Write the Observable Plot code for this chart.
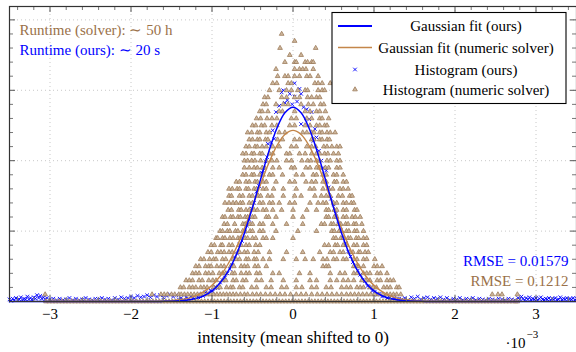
<!DOCTYPE html>
<html><head><meta charset="utf-8">
<script src="https://cdn.jsdelivr.net/npm/d3@7"></script>
<script src="https://cdn.jsdelivr.net/npm/@observablehq/plot@0.6"></script>
<style>
body{margin:0;background:#fff}
#wrap{position:relative;width:576px;height:352px;font-family:"Liberation Serif",serif}
#legend{position:absolute;left:0;top:0;pointer-events:none}
</style></head><body><div id="wrap"></div>
<script>
// ---- axis ticks (x in units of 1e-3, y = histogram count) ----
const xMajorTicks = [-3,-2,-1,0,1,2,3];
const xMinorTicks = [-3.4,-3.2,-2.8,-2.6,-2.4,-2.2,-1.8,-1.6,-1.4,-1.2,-0.8,-0.6,-0.4,-0.2,0.2,0.4,0.6,0.8,1.2,1.4,1.6,1.8,2.2,2.4,2.6,2.8,3.2,3.4];
const yMajorTicks = [10,20,30,40];
const yMinorTicks = [2,4,6,8,12,14,16,18,22,24,26,28,32,34,36,38];

// ---- Gaussian fits ----
const fitOursX = [-3.5,-1.8,-1.6,-1.5,-1.4,-1.3,-1.2,-1.1,-1.0,-0.9,-0.8,-0.7,-0.6,-0.5,-0.4,-0.3,-0.2,-0.1,0,0.1,0.2,0.3,0.4,0.5,0.6,0.7,0.8,0.9,1.0,1.1,1.2,1.3,1.4,1.5,1.6,1.8,3.5];
const fitOursY = [0,0.005,0.02,0.04,0.09,0.2,0.42,0.82,1.51,2.63,4.31,6.65,9.71,13.36,17.35,21.25,24.58,26.81,27.6,26.81,24.58,21.25,17.35,13.36,9.71,6.65,4.31,2.63,1.51,0.82,0.42,0.2,0.09,0.04,0.02,0.005,0];
const fitSolverX = [-3.05,-1.8,-1.6,-1.5,-1.4,-1.3,-1.2,-1.1,-1.0,-0.9,-0.8,-0.7,-0.6,-0.5,-0.4,-0.3,-0.2,-0.1,0,0.1,0.2,0.3,0.4,0.5,0.6,0.7,0.8,0.9,1.0,1.1,1.2,1.3,1.4,1.5,1.6,1.8,2.77];
const fitSolverY = [0,0.01,0.06,0.12,0.24,0.45,0.81,1.39,2.29,3.58,5.36,7.63,10.38,13.46,16.65,19.64,22.11,23.73,24.3,23.73,22.11,19.64,16.65,13.46,10.38,7.63,5.36,3.58,2.29,1.39,0.81,0.45,0.24,0.12,0.06,0.01,0];

// ---- Histogram (ours): [intensity in 1e-5, count] ----
const histOurs = [
[-350,0.3],[-348,0.1],[-346,0.4],[-344,0.2],[-342,0.5],[-340,0.2],[-338,0.3],[-336,0.6],[-334,0.2],[-332,0.4],[-330,0.3],[-328,0.7],[-326,0.3],[-324,0.5],[-322,0.2],[-320,0.6],[-318,0.4],[-316,0.9],[-314,0.5],[-312,0.8],[-310,0.4],[-308,0.6],[-306,0.3],[-304,0.5],
[-300,0.3],[-296,0.4],[-292,0.2],[-288,0.4],[-284,0.2],[-280,0.3],[-276,0.5],[-272,0.2],[-268,0.4],[-264,0.2],[-260,0.3],[-256,0.5],[-252,0.3],[-248,0.2],[-244,0.4],[-240,0.3],[-236,0.5],[-232,0.3],[-228,0.4],[-224,0.2],[-220,0.5],[-216,0.3],[-212,0.6],[-208,0.4],[-204,0.5],[-200,0.7],[-196,0.5],[-192,0.8],[-188,0.6],[-184,0.7],[-180,0.9],[-176,0.6],[-172,0.9],[-168,0.7],[-164,0.9],[-160,0.6],[-156,0.8],[-152,1.0],[-148,0.7],[-144,0.9],
[-141,0.3],[-138,0.5],[-135,0.2],[-132,0.6],[-129,0.4],[-126,0.7],[-123,0.5],[-120,0.9],[-117,0.6],[-114,1.0],[-111,0.8],[-108,1.3],[-105,1.1],[-102,1.6],[-99,1.4],[-96,2.1],[-93,1.9],[-90,2.7],[-87,3.0],[-84,3.4],[-81,4.0],[-78,4.6],[-75,5.2],[-72,6.3],[-69,6.8],[-66,8.1],[-63,8.6],[-60,9.9],[-57,10.8],[-54,11.6],[-51,13.2],[-48,14.0],[-45,15.6],[-42,16.4],[-39,18.3],[-37,18.6],[-34,19.9],[-32,20.5],[-31,22.4],[-27,22.6],[-25,24.3],[-23,23.1],[-21,26.9],[-17,27.8],[-14,29.7],[-12,30.0],[-10,28.2],[-7,28.6],[-4,29.5],[-1,28.0],[2,31.0],[2,29.1],[5,28.4],[8,30.2],[10,29.5],[10,25.2],[13,27.6],[17,27.3],[20,25.9],[23,26.9],[25,22.8],[27,24.5],[29,23.3],[32,21.4],[35,20.0],[37,19.0],[41,18.6],[44,16.2],[47,14.6],[50,13.8],[53,12.5],[56,11.0],[59,10.2],[62,9.0],[65,8.3],[68,7.1],[71,6.4],[74,5.6],[77,5.0],[80,4.4],[83,3.8],[86,3.1],[89,2.9],[92,2.2],[95,2.0],[98,1.5],[101,1.4],[104,1.0],[107,1.1],[110,0.7],[113,0.9],[116,0.5],[119,0.6],[122,0.4],[125,0.5],[128,0.3],[131,0.4],
[134,0.3],[138,0.5],[142,0.2],[146,0.6],[150,0.4],[154,0.7],[158,0.3],[162,0.5],[166,0.6],[170,0.3],[174,0.5],[178,0.4],[182,0.6],[186,0.3],[190,0.5],[194,0.2],[198,0.4],[202,0.3],[206,0.5],[210,0.2],[214,0.4],[218,0.3],[222,0.5],[226,0.2],[230,0.4],[234,0.3],[238,0.2],[242,0.4],[246,0.3],[250,0.2],[254,0.4],[258,0.3],[262,0.2],[266,0.4],[270,0.3],[274,0.2],
[278,0.5],[280,0.3],[282,0.7],[284,0.4],[286,0.2],[288,0.5],[290,0.3],[292,0.6],[294,0.2],[296,0.4],[298,0.3],[300,0.5],[302,0.2],[304,0.4],[306,0.6],[308,0.3],[310,0.2],[312,0.4],[314,0.3],[316,0.5],[318,0.2],[320,0.4],[322,0.3],[324,0.5],[326,0.2],[328,0.3],[330,0.6],[332,0.2],[334,0.4],[336,0.3],[338,0.5],[340,0.2],[342,0.4],[344,0.3],[346,0.5],[348,0.2],[350,0.4]
];

// ---- Histogram (numeric solver): row index = count, values = intensity in 1e-5 ----
const histSolver = [
/*0*/[-305,-301,-297,-293,-289,-285,-281,-277,-273,-269,-265,-261,-257,-253,-249,-245,-241,-237,-233,-229,-225,-221,-217,-213,-209,-205,-201,-197,-193,-189,-185,-181,-177,-173,-169,-165,-161,-157,-153,-149,-145,-141,-137,-133,-129,-125,-121,-117,-113,-109,-105,-101,-97,-93,-89,-85,-81,-77,-73,-69,-65,-61,-57,-53,-49,-45,-41,-37,-33,-29,-25,-21,-17,-13,-9,-5,-1,3,7,11,15,19,23,27,31,35,39,43,47,51,55,59,63,67,71,75,79,83,87,91,95,99,103,107,111,115,119,123,127,131,135,139,143,147,151,155,159,163,167,171,175,179,183,187,191,195,199,203,207,211,215,219,223,227,231,235,239,243,247,251,255,259,263,267,271,275,277],
/*1*/[-306,-174,-163,-159,-155,-150,-146,-141,-138,-134,-130,-126,-122,-118,-114,-110,-106,-102,-98,-94,-90,-86,-82,-78,-74,-70,-65,-60,-56,-50,-45,-40,-34,-28,-22,-16,-10,-3,4,10,16,23,30,36,42,48,54,60,66,71,76,81,86,91,96,101,106,111,116,120,124,128,133,246,253,258,277],
/*2*/[-139,-135,-128,-124,-120,-114,-110,-106,-98,-94,-90,-82,-77,-74,-66,-62,-51,-45,-33,-27,-14,-8,4,11,23,29,41,47,60,66,71,79,83,87,95,99,103,112,116,120,128,131],
/*3*/[-132,-128,-124,-116,-112,-104,-99,-95,-87,-83,-74,-70,-62,-58,-45,-39,-27,-12,4,21,29,46,54,62,68,75,85,90,95,104,108,116,120,124],
/*4*/[-124,-120,-116,-108,-104,-99,-91,-87,-83,-75,-72,-64,-58,-54,-45,-41,-25,-17,8,21,46,58,64,75,79,87,91,95,104,108,116],
/*5*/[-120,-116,-108,-104,-101,-94,-89,-85,-77,-73,-64,-60,-56,-47,-43,-33,37,41,44,75,78,81,87,100,104,110],
/*6*/[-114,-110,-103,-98,-95,-87,-83,-74,-70,-66,-58,-55,-48,-45,-37,-29,-12,4,15,25,37,42,50,54,62,66,75,79,87,91,101],
/*7*/[-105,-101,-93,-89,-85,-79,-75,-68,-66,-60,-56,-48,-43,-29,-8,12,33,46,50,58,62,70,74,81,83,89,93],
/*8*/[-101,-97,-89,-87,-79,-75,-67,-64,-58,-54,-46,-41,39,44,52,55,62,66,75,79,87,91],
/*9*/[-95,-93,-87,-84,-78,-74,-68,-65,-59,-56,-50,-46,-37,-33,-25,0,50,53,59,62,68,71,78,81,87,91],
/*10*/[-90,-87,-81,-78,-71,-68,-62,-59,-53,-50,-41,-37,-21,6,29,48,51,57,60,66,69,76,79,87],
/*11*/[-85,-81,-72,-62,-59,-53,-50,-41,-37,-25,-8,12,35,39,47,50,56,59,65,68,75,78,85],
/*12*/[-87,-84,-77,-74,-68,-65,-59,-56,-50,-47,-33,-30,-21,0,12,41,44,51,54,62,66,73,77,83],
/*13*/[-80,-76,-67,-64,-58,-54,-48,-44,-37,-33,-25,-14,0,17,29,41,44,51,54,62,66,76,79],
/*14*/[-84,-79,-74,-70,-65,-62,-54,-50,-41,-37,-29,-25,-17,-4,2,21,31,37,41,50,54,62,66,72,75],
/*15*/[-79,-76,-66,-62,-54,-50,-43,-40,-31,-26,-12,2,10,27,35,41,46,56,61,70,73],
/*16*/[-79,-75,-69,-66,-58,-55,-48,-45,-37,-33,-24,-12,4,21,26,37,44,49,58,62,68],
/*17*/[-70,-66,-58,-54,-47,-44,-37,-33,-21,-4,2,16,23,28,37,41,51,54,62,66],
/*18*/[-62,-58,-51,-48,-41,-37,-29,-25,-13,4,12,25,29,37,41,50,54,62],
/*19*/[-60,-54,-48,-44,-38,-35,-25,-17,-2,2,16,21,29,33,40,44,54,58],
/*20*/[-60,-56,-51,-47,-40,-33,-26,-20,-8,-2,11,18,22,29,33,42,46,54,58],
/*21*/[-62,-58,-51,-48,-41,-38,-29,-25,-8,-4,8,15,23,29,33,39,43,50,56],
/*22*/[-58,-54,-47,-44,-38,-33,-25,-17,-2,4,17,23,28,38,42,48,54,58],
/*23*/[-54,-50,-44,-41,-34,-31,-19,-13,2,8,23,26,33,36,42,45],
/*24*/[-56,-51,-44,-41,-33,-29,-17,-10,12,17,23,26,33,36,42,46,52],
/*25*/[-50,-46,-39,-35,-26,-20,-4,2,15,21,29,33,39,42],
/*26*/[-45,-40,-32,-26,-20,-2,4,17,23,33,36,44],
/*27*/[-41,-38,-31,-17,-13,2,15,21,29,33,40],
/*28*/[-37,-33,-21,-12,-6,10,19,25,34,38],
/*29*/[-35,-31,-14,-8,2,8,18,23,29,33],
/*30*/[-29,-17,-8,-2,6,15,18,31,36,39],
/*31*/[-25,-20,-6,-2,27,31,36,46],
/*32*/[-19,-10,-6,2,8,17,21,31],
/*33*/[-21,2,8,12,16,25],
/*34*/[-10,2,4,15,18,23,25],
/*35*/[-4,10],
/*36*/[-16,28],
/*37*/[2],
/*38*/[-14]
];

const labels = {
  xlabel: "intensity (mean shifted to 0)",
  runtimeSolver: "Runtime (solver): ∼ 50 h",
  runtimeOurs: "Runtime (ours): ∼ 20 s",
  rmseOurs: "RMSE = 0.01579",
  rmseSolver: "RMSE = 0.1212",
  legend: ["Gaussian fit (ours)", "Gaussian fit (numeric solver)", "Histogram (ours)", "Histogram (numeric solver)"]
};

const BLUE = "#0000ff";
const BROWN_LINE = "#c4864a";
const BROWN_MARK = "#9d7c5c";
const BROWN_FILL = "#cdb69c";
const BROWN_TEXT = "#9a7149";
const FONT = "Liberation Serif";

const oursPts = histOurs.map(([v, c]) => ({x: v / 100, y: c}));
const solverPts = histSolver.flatMap((xs, c) => xs.map(v => ({x: v / 100, y: c})));
const fitOurs = fitOursX.map((x, i) => ({x, y: fitOursY[i]}));
const fitSolver = fitSolverX.map((x, i) => ({x, y: fitSolverY[i]}));

const W = 576, H = 352, mL = 9, mR = 0, mT = 6, mB = 51;
const pw = W - mL - mR, ph = H - mT - mB;
const minus = d => d < 0 ? "\u2212" + (-d) : String(d);

const chart = Plot.plot({
  width: W, height: H,
  marginLeft: mL, marginRight: mR, marginTop: mT, marginBottom: mB,
  x: {domain: [-3.5, 3.5], axis: null},
  y: {domain: [0, 41.9], axis: null},
  style: {fontFamily: FONT, fontSize: "15px", background: "white", overflow: "visible"},
  marks: [
    Plot.ruleX(xMajorTicks, {x: d => d, stroke: "#c8c8c8", strokeDasharray: "1,3"}),
    Plot.ruleY(yMajorTicks, {y: d => d, stroke: "#c8c8c8", strokeDasharray: "1,3"}),
    Plot.dot(oursPts, {x: "x", y: "y", symbol: "times", r: 1.8, stroke: BLUE, strokeWidth: 0.9}),
    Plot.dot(solverPts, {x: "x", y: "y", symbol: "triangle", r: 1.75, stroke: BROWN_MARK, fill: BROWN_FILL, strokeWidth: 0.8}),
    Plot.line(fitSolver, {x: "x", y: "y", stroke: BROWN_LINE, strokeWidth: 1.4, curve: "catmull-rom"}),
    Plot.line(fitOurs, {x: "x", y: "y", stroke: BLUE, strokeWidth: 1.5, curve: "catmull-rom"}),
    // inward ticks: bottom / top
    Plot.ruleX(xMajorTicks, {x: d => d, insetTop: ph - 6, stroke: "#555"}),
    Plot.ruleX(xMinorTicks, {x: d => d, insetTop: ph - 4, stroke: "#777"}),
    Plot.ruleX(xMajorTicks, {x: d => d, insetBottom: ph - 6, stroke: "#555"}),
    Plot.ruleX(xMinorTicks, {x: d => d, insetBottom: ph - 4, stroke: "#777"}),
    // inward ticks: left / right
    Plot.ruleY(yMajorTicks, {y: d => d, insetRight: pw - 6, stroke: "#555"}),
    Plot.ruleY(yMinorTicks, {y: d => d, insetRight: pw - 4, stroke: "#777"}),
    Plot.ruleY(yMajorTicks, {y: d => d, insetLeft: pw - 6, stroke: "#555"}),
    Plot.ruleY(yMinorTicks, {y: d => d, insetLeft: pw - 4, stroke: "#777"}),
    Plot.frame({stroke: "#333", strokeWidth: 1.2}),
    Plot.axisX({ticks: xMajorTicks, tickSize: 0, tickPadding: 7, tickFormat: minus, label: null, fontSize: 15}),
    Plot.text([labels.xlabel], {text: d => d, frameAnchor: "bottom", dy: 36, lineAnchor: "middle", fontSize: 17, fill: "#000"}),
    Plot.text(["·10"], {text: d => d, frameAnchor: "bottom-right", dx: -71, dy: 42, textAnchor: "start", lineAnchor: "middle", fontSize: 15, fill: "#000"}),
    Plot.text(["\u22123"], {text: d => d, frameAnchor: "bottom-right", dx: -50, dy: 33, textAnchor: "start", lineAnchor: "middle", fontSize: 11, fill: "#000"}),
    Plot.text([labels.runtimeSolver], {text: d => d, frameAnchor: "top-left", dx: 10, dy: 24, textAnchor: "start", lineAnchor: "middle", fontSize: 15, fill: BROWN_TEXT}),
    Plot.text([labels.runtimeOurs], {text: d => d, frameAnchor: "top-left", dx: 10, dy: 44, textAnchor: "start", lineAnchor: "middle", fontSize: 15, fill: BLUE}),
    Plot.text([labels.rmseOurs], {text: d => d, frameAnchor: "top-right", dx: -8, dy: 255, textAnchor: "end", lineAnchor: "middle", fontSize: 15, fill: BLUE}),
    Plot.text([labels.rmseSolver], {text: d => d, frameAnchor: "top-right", dx: -8, dy: 275, textAnchor: "end", lineAnchor: "middle", fontSize: 15, fill: BROWN_TEXT})
  ]
});

const wrap = document.getElementById("wrap");
wrap.appendChild(chart);

// ---- legend (boxed, inside the plot area, top right) ----
const lg = d3.select(wrap).append("svg").attr("id", "legend").attr("width", W).attr("height", H);
lg.append("rect").attr("x", 332).attr("y", 12.5).attr("width", 234).attr("height", 91)
  .attr("fill", "white").attr("stroke", "#000").attr("stroke-width", 1.1);
const rowY = [26, 47.5, 69.5, 89.5];
lg.append("line").attr("x1", 338).attr("x2", 372).attr("y1", rowY[0]).attr("y2", rowY[0]).attr("stroke", BLUE).attr("stroke-width", 1.8);
lg.append("line").attr("x1", 338).attr("x2", 372).attr("y1", rowY[1]).attr("y2", rowY[1]).attr("stroke", BROWN_LINE).attr("stroke-width", 1.6);
lg.append("path").attr("transform", `translate(355,${rowY[2]})`).attr("d", d3.symbol(d3.symbolTimes, Math.PI * 1.8 * 1.8)())
  .attr("fill", "none").attr("stroke", BLUE).attr("stroke-width", 0.9);
lg.append("path").attr("transform", `translate(355,${rowY[3]})`).attr("d", d3.symbol(d3.symbolTriangle, Math.PI * 1.75 * 1.75)())
  .attr("fill", BROWN_FILL).attr("stroke", BROWN_MARK).attr("stroke-width", 0.8);
labels.legend.forEach((t, i) => {
  lg.append("text").attr("x", 466).attr("y", rowY[i] + 5.3).attr("text-anchor", "middle")
    .attr("font-family", FONT).attr("font-size", 15).attr("fill", "#000").text(t);
});
</script></body></html>
